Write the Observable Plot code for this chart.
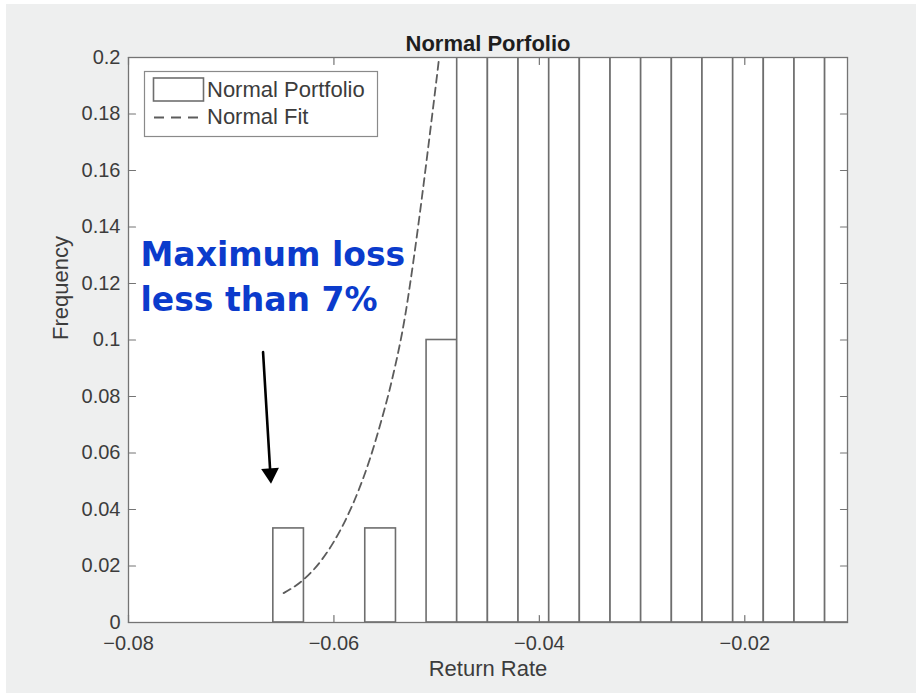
<!DOCTYPE html>
<html><head><meta charset="utf-8">
<script src="https://cdn.jsdelivr.net/npm/d3@7"></script>
<script src="https://cdn.jsdelivr.net/npm/@observablehq/plot@0.6"></script>
<style>
html,body{margin:0;padding:0;background:#fff;}
#wrap{position:absolute;left:0;top:0;width:916px;height:693px;overflow:hidden;}
#bg{position:absolute;left:6px;top:4px;right:0;bottom:0;background:#eeefef;}
#chart{position:absolute;left:0;top:0;}
</style></head><body>
<div id="wrap"><div id="bg"></div><div id="chart"></div></div>
<script>
// ---- data ----
const chartTitle = "Normal Porfolio";
const xLabel = "Return Rate";
const yLabel = "Frequency";
const seriesNames = ["Normal Portfolio", "Normal Fit"];
const xDomain = [-0.08, -0.01];
const yDomain = [0, 0.2];
const xTicks = [-0.08, -0.06, -0.04, -0.02];
const yTicks = [0, 0.02, 0.04, 0.06, 0.08, 0.1, 0.12, 0.14, 0.16, 0.18, 0.2];
// histogram bin edges (left edge of each bin, plus the final right edge)
const binEdges = [-0.06590, -0.06292, -0.05993, -0.05695, -0.05396, -0.05098, -0.04800, -0.04501,
  -0.04203, -0.03904, -0.03606, -0.03307, -0.03009, -0.02710, -0.02412, -0.02113, -0.01815,
  -0.01516, -0.01218, -0.00919];
// frequencies (bins beyond 0.2 run off the top of the axes)
const binFreq = [0.0333, 0, 0, 0.0333, 0, 0.1, 0.24, 0.34, 0.46, 0.58, 0.68, 0.75, 0.78, 0.76,
  0.7, 0.61, 0.5, 0.38, 0.27];
// normal fit curve (dashed)
const fitX = [-0.06490, -0.06296, -0.06133, -0.05988, -0.05858, -0.05761, -0.05647, -0.05550,
  -0.05436, -0.05307, -0.05226, -0.05145, -0.05064, -0.04957, -0.04900];
const fitY = [0.0104, 0.0152, 0.0215, 0.0294, 0.0385, 0.0467, 0.0582, 0.0700,
  0.0857, 0.1085, 0.1280, 0.1500, 0.1735, 0.2060, 0.2250];
// annotation
const noteLines = ["Maximum loss", "less than 7%"];
const noteX = -0.07883;
const noteY = [0.12637, 0.11044];
const arrowFrom = [-0.06690, 0.0957];
const arrowTo = [-0.06613, 0.0491];

// ---- build tables ----
const bins = binFreq.map((f, i) => ({x1: binEdges[i], x2: binEdges[i + 1], y: f})).filter(d => d.y > 0);
const fit = fitX.map((x, i) => ({x, y: fitY[i]}));
const notes = noteLines.map((t, i) => ({t, x: noteX, y: noteY[i]}));
const minus = d => String(d).replace("-", "\u2212");

const axisColor = "#747474";
const textColor = "#3c3c3c";
const tickLen = 7;
const tickShape = {draw(context, l) { context.moveTo(0, 0); context.lineTo(0, -l); }};
const tickOpts = {length: tickLen, anchor: "start", shape: tickShape, stroke: axisColor, strokeWidth: 1.2};

const svg = Plot.plot({
  width: 916, height: 693,
  marginLeft: 128, marginRight: 69, marginTop: 57, marginBottom: 71,
  x: {domain: xDomain},
  y: {domain: yDomain},
  style: {background: "transparent", fontFamily: "'Liberation Sans', Arial, sans-serif", color: textColor},
  marks: [
    Plot.frame({fill: "white", stroke: "none"}),
    Plot.rectY(bins, {x1: "x1", x2: "x2", y: "y", fill: "white", stroke: "#6e6e6e", strokeWidth: 1.6, clip: true}),
    Plot.line(fit, {x: "x", y: "y", curve: "monotone-x", stroke: "#5c5c5c", strokeWidth: 1.8, strokeDasharray: "8,5", clip: true}),
    Plot.frame({stroke: axisColor, strokeWidth: 1.3}),
    // inward ticks
    Plot.vector(yTicks, {x: () => xDomain[0], y: d => d, rotate: 90, ...tickOpts}),
    Plot.vector(yTicks, {x: () => xDomain[1], y: d => d, rotate: -90, ...tickOpts}),
    Plot.vector(xTicks, {x: d => d, y: () => yDomain[0], rotate: 0, ...tickOpts}),
    Plot.vector(xTicks, {x: d => d, y: () => yDomain[1], rotate: 180, ...tickOpts}),
    Plot.axisX({ticks: xTicks, tickSize: 0, tickPadding: 13, fontSize: 20, tickFormat: minus, label: null}),
    Plot.axisY({ticks: yTicks, tickSize: 0, tickPadding: 8, fontSize: 20, tickFormat: d => String(d), label: null}),
    Plot.text([chartTitle], {frameAnchor: "top", dy: -22, text: d => d, fontWeight: "bold", fontSize: 22, fill: "#1e1e1e"}),
    Plot.text([xLabel], {frameAnchor: "bottom", dy: 53, text: d => d, fontSize: 22, fill: textColor}),
    Plot.text([yLabel], {frameAnchor: "left", dx: -68, rotate: -90, text: d => d, fontSize: 22, fill: textColor}),
    Plot.text(notes, {x: "x", y: "y", text: "t", textAnchor: "start", lineAnchor: "bottom", fontSize: 33,
      fontWeight: "bold", fontFamily: "'DejaVu Sans', Verdana, sans-serif", fill: "#0b3bcc"}),
    Plot.arrow([{x1: arrowFrom[0], y1: arrowFrom[1], x2: arrowTo[0], y2: arrowTo[1]}],
      {x1: "x1", y1: "y1", x2: "x2", y2: "y2", headLength: 0, insetEnd: 9, stroke: "black", strokeWidth: 2.6}),
    Plot.dot([{x: arrowTo[0], y: arrowTo[1]}], {x: "x", y: "y", symbol: "triangle", r: 6.6, rotate: 176.5,
      dx: -0.6, dy: -10.3, fill: "black", stroke: "none"})
  ]
});
document.getElementById("chart").appendChild(svg);

// legend box (inside the axes, top-left)
const lg = d3.select(svg).append("g")
  .attr("font-family", "'Liberation Sans', Arial, sans-serif").attr("text-anchor", "start");
lg.append("rect").attr("x", 144.5).attr("y", 71.5).attr("width", 233).attr("height", 65)
  .attr("fill", "white").attr("stroke", "#8a8a8a").attr("stroke-width", 1.2);
lg.append("rect").attr("x", 153.5).attr("y", 78).attr("width", 50).attr("height", 23)
  .attr("fill", "white").attr("stroke", "#6e6e6e").attr("stroke-width", 1.6);
lg.append("line").attr("x1", 154).attr("x2", 205).attr("y1", 117.5).attr("y2", 117.5)
  .attr("stroke", "#5c5c5c").attr("stroke-width", 1.8).attr("stroke-dasharray", "10,7");
lg.append("text").attr("x", 207).attr("y", 97).attr("font-size", 22).attr("fill", textColor).text(seriesNames[0]);
lg.append("text").attr("x", 207).attr("y", 124).attr("font-size", 22).attr("fill", textColor).text(seriesNames[1]);
</script>
</body></html>
